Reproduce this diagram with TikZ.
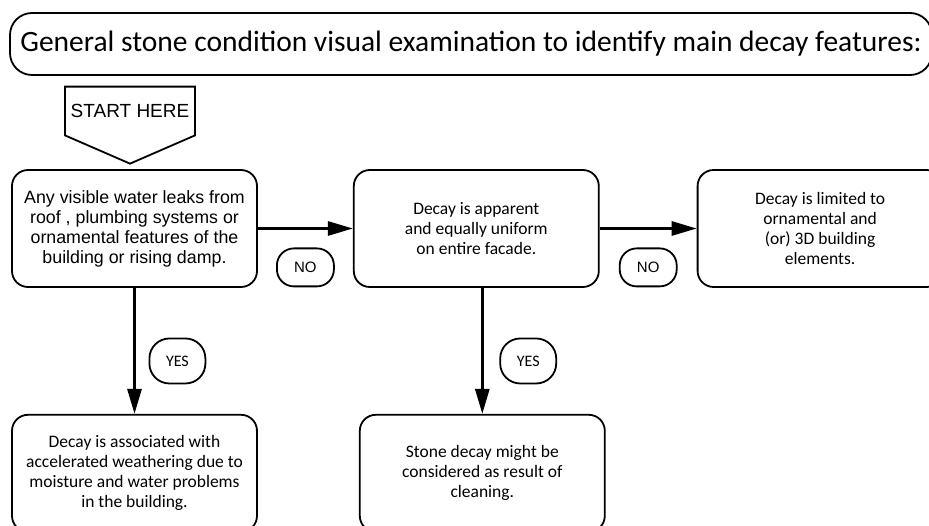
\documentclass[tikz,border=0pt]{standalone}
\usepackage{fontspec}
\setmainfont{Carlito}
\newfontfamily\arialfont{Liberation Sans}
\usetikzlibrary{arrows.meta,positioning,shapes.symbols}

\begin{document}
\begin{tikzpicture}[
    x=1pt, y=-1pt,
    box/.style={draw, line width=1.8pt, rounded corners=16pt, align=center, minimum width=245pt, minimum height=117pt, font=\fontsize{17.5}{20}\selectfont},
    tag/.style={draw, line width=1.8pt, rounded corners=17pt, minimum width=57pt, minimum height=38pt, font=\fontsize{16}{18}\selectfont},
    arrow/.style={-{Triangle[length=25pt,width=14pt]}, line width=2.8pt}
]
\useasboundingbox (0,0) rectangle (929,526);
\node[draw, line width=1.8pt, rounded corners=22pt, minimum width=922pt, minimum height=62pt, font=\fontsize{29.5}{32}\selectfont] (title) at (471,44) {General stone condition visual examination to identify main decay features:};
\node[draw, line width=1.8pt, signal, signal to=south, signal pointer angle=133, minimum width=130pt, minimum height=76pt, font=\arialfont\fontsize{19}{22}\selectfont] (start) at (130,111) {START HERE};

\node[box, font=\arialfont\fontsize{17.8}{20}\selectfont] (leaks) at (134.5,228.5) {Any visible water leaks from\\roof , plumbing systems or\\ornamental features of the\\building or rising damp.};
\node[box, right=95pt of leaks] (uniform) {Decay is apparent\\and equally uniform\\on entire facade.};
\node[box, right=97pt of uniform] (ornament) {Decay is limited to\\ornamental and\\(or) 3D building\\elements.};
\node[box, below=126pt of leaks] (moisture) {Decay is associated with\\accelerated weathering due to\\moisture and water problems\\in the building.};
\node[box, below=126pt of uniform, xshift=6pt] (cleaning) {Stone decay might be\\considered as result of\\cleaning.};

\draw[arrow] (leaks) -- node[tag, below=19pt, font=\arialfont\fontsize{15}{18}\selectfont] (no1) {NO} (uniform);
\draw[arrow] (uniform) -- node[tag, below=19pt, font=\arialfont\fontsize{15}{18}\selectfont] (no2) {NO} (ornament);
\draw[arrow] (leaks) -- node[tag, right=14pt, pos=0.58, minimum width=56pt, minimum height=45pt, rounded corners=20pt] (yes1) {YES} (moisture);
\draw[arrow] (cleaning.north |- uniform.south) -- node[tag, right=17pt, pos=0.58, minimum width=56pt, minimum height=45pt, rounded corners=20pt] (yes2) {YES} (cleaning);
\end{tikzpicture}
\end{document}
